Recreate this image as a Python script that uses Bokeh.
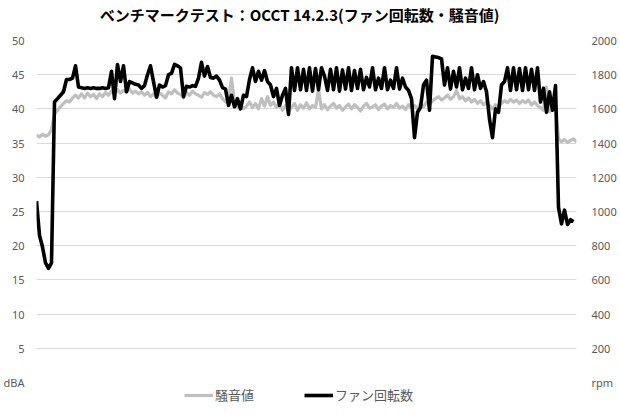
from bokeh.plotting import figure
from bokeh.models import Range1d, LinearAxis, FixedTicker, Legend, LegendItem, Label
from bokeh.embed import file_html
from bokeh.resources import INLINE

title_text = "ベンチマークテスト：OCCT 14.2.3(ファン回転数・騒音値)"
noise_name = "騒音値"
fan_name = "ファン回転数"
left_unit = "dBA"
right_unit = "rpm"

left_ticks = [0, 5, 10, 15, 20, 25, 30, 35, 40, 45, 50]
right_ticks = [0, 200, 400, 600, 800, 1000, 1200, 1400, 1600, 1800, 2000]
grid_ticks = [5, 10, 15, 20, 25, 30, 35, 40, 45]

noise_dba = [
    36.2, 35.9, 36.3, 36.0, 36.2,
    37.0,
    39.2, 39.8, 40.3, 40.8, 41.2, 41.0, 41.6, 42.0, 41.6,
    42.2, 41.6, 42.3, 41.8, 42.1, 41.5, 42.2, 41.8, 42.4, 42.0,
    42.6, 42.2, 42.8, 42.3, 42.7, 42.5, 42.9, 42.3, 42.6, 42.2, 42.5,
    42.0, 42.4, 41.8, 42.2, 41.7, 42.3, 42.0, 41.6, 42.5, 42.2, 42.8, 42.3, 42.1,
    41.6, 42.4, 42.0, 42.6, 42.2, 42.0, 41.7, 42.4, 42.1, 42.5, 42.0, 41.8,
    42.2, 41.5, 41.0, 41.3, 44.5, 41.0, 40.3, 40.6, 40.0, 40.4,
    41.0, 40.2, 40.8, 40.0, 41.5, 40.4, 41.8, 40.5, 41.0, 40.2, 40.8, 39.8, 40.5, 39.6,
    40.2, 40.8, 39.8, 40.6, 40.1, 40.9, 40.0, 40.5, 40.2, 42.8,
    40.0, 40.6, 39.9, 40.4, 40.8, 40.1, 40.5, 39.8, 40.3, 40.7,
    40.0, 40.6, 40.2, 39.7, 40.4, 40.8, 40.1, 40.3, 40.6, 39.9,
    40.4, 40.7, 40.0, 40.5, 40.2, 40.8, 40.1, 40.4, 39.9, 40.6,
    40.2,
    40.5, 40.0, 40.8, 40.3, 41.0, 40.6, 41.2, 41.5, 41.8, 41.3, 41.6, 42.0, 41.4, 41.8, 42.7,
    41.5, 41.8, 41.2, 41.6, 41.0, 41.4, 40.8, 41.2, 40.6, 41.0,
    40.5, 40.0, 40.6, 40.3, 40.8, 41.2, 40.9, 41.4, 41.0, 41.3, 40.8, 41.2, 40.9, 41.3, 40.6, 41.0, 40.5,
    40.2, 39.8, 43.2, 39.6, 40.0, 40.5,
    35.6, 35.2, 35.5, 35.1, 35.4, 35.6, 35.2,
]

fan_rpm = [
    1060, 860, 792, 700, 668, 700,
    1640, 1660, 1680, 1700, 1772, 1772, 1780, 1852, 1728,
    1724, 1720, 1724, 1720, 1724, 1720, 1720, 1724, 1720, 1724,
    1820, 1660, 1860, 1760, 1852, 1700, 1760, 1752, 1744, 1740,
    1720, 1736, 1800, 1852, 1760, 1668, 1740, 1728, 1736, 1800,
    1808, 1860, 1852, 1840, 1672, 1732, 1728, 1736, 1732, 1780,
    1872, 1792, 1848, 1784, 1780, 1792, 1768, 1724, 1716, 1620,
    1680, 1612, 1660, 1600, 1680, 1672, 1772, 1840, 1760, 1820,
    1768, 1824, 1760, 1740, 1672, 1720, 1620, 1680, 1720, 1568,
    1840, 1708, 1840, 1712, 1832, 1708, 1840, 1704, 1836, 1712,
    1840, 1792, 1708, 1832, 1712, 1840, 1704, 1828, 1716, 1840,
    1708, 1824, 1720, 1832, 1712, 1784, 1728, 1840, 1712, 1780,
    1720, 1840, 1712, 1768, 1720, 1840, 1716, 1780, 1728, 1708,
    1660, 1432, 1580, 1608, 1740, 1768, 1592, 1908, 1904, 1900,
    1892, 1740, 1840, 1716, 1820, 1728, 1840, 1712, 1780, 1720,
    1840, 1712, 1800, 1720, 1760, 1700, 1540, 1432, 1600, 1580,
    1740, 1760, 1840, 1708, 1840, 1712, 1836, 1708, 1840, 1712,
    1832, 1708, 1840, 1640, 1720, 1580, 1700, 1592, 1736, 1024,
    928, 1008, 924, 952, 940,
]

noise_x = list(range(len(noise_dba)))
fan_x = list(range(len(fan_rpm)))

LABEL_FONT = "Noto Sans"
GRAY_TXT = "#595959"

# frame covers the full height: 6.84 px per dBA, 50 dBA 40 px below the top
DB_LO, DB_HI = -3.216, 55.848
p = figure(frame_width=540, frame_height=404, output_backend="svg", toolbar_location=None,
           x_axis_location=None,
           x_range=Range1d(0, 180), y_range=Range1d(DB_LO, DB_HI),
           min_border_left=0, min_border_right=0, min_border_top=0, min_border_bottom=0)
p.extra_y_ranges = {"rpm": Range1d(DB_LO * 40, DB_HI * 40)}

p.outline_line_color = None
p.xgrid.visible = False
p.ygrid.ticker = FixedTicker(ticks=grid_ticks)
p.ygrid.grid_line_color = "#d9d9d9"
p.ygrid.grid_line_width = 1

ly = p.yaxis[0]
ly.ticker = FixedTicker(ticks=left_ticks)
ly.major_label_overrides = {0: left_unit}
ly.axis_line_color = None
ly.major_tick_line_color = None
ly.minor_tick_line_color = None
ly.major_label_standoff = 6
ly.major_label_text_font = LABEL_FONT
ly.major_label_text_font_size = "11px"
ly.major_label_text_color = GRAY_TXT

ry = LinearAxis(y_range_name="rpm", ticker=FixedTicker(ticks=right_ticks))
ry.major_label_overrides = {0: right_unit}
ry.axis_line_color = None
ry.major_tick_line_color = None
ry.minor_tick_line_color = None
ry.major_label_standoff = 9
ry.major_label_text_font = LABEL_FONT
ry.major_label_text_font_size = "11px"
ry.major_label_text_color = GRAY_TXT
p.add_layout(ry, "right")

p.add_layout(Label(x=87.7, y=53.8, text=title_text, text_align="center",
                   text_baseline="middle", text_font="Noto Sans CJK JP",
                   text_font_style="bold", text_font_size="15px", text_color="#000000"))

r_noise = p.line(noise_x, noise_dba, line_color="#bfbfbf", line_width=3.2, line_join="round")
r_fan = p.line(fan_x, fan_rpm, y_range_name="rpm", line_color="#000000", line_width=3.6,
               line_join="round")

legend = Legend(items=[LegendItem(label=noise_name, renderers=[r_noise]),
                       LegendItem(label=fan_name, renderers=[r_fan])],
                orientation="horizontal", location=(148, 0),
                glyph_width=29, glyph_height=12, label_standoff=2, spacing=50,
                padding=0, margin=0, label_height=12,
                label_text_font="Noto Sans CJK JP", label_text_font_size="13px",
                label_text_color=GRAY_TXT,
                background_fill_alpha=0, border_line_color=None)
p.add_layout(legend, "center")

open("out.html", "w").write(file_html(p, INLINE))
